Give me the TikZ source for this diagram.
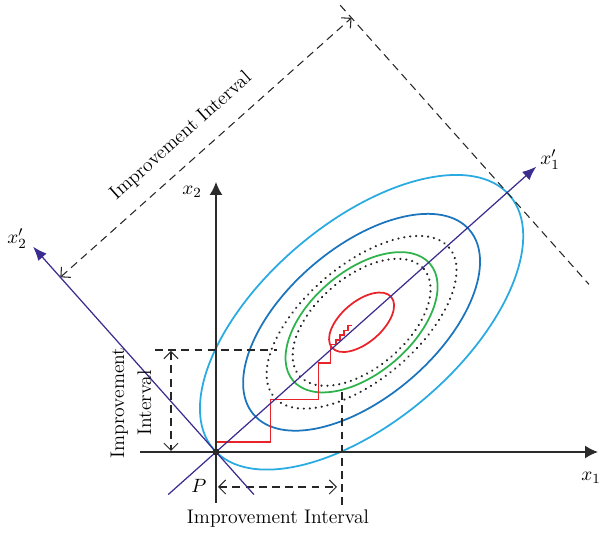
\documentclass[tikz,border=0pt]{standalone}
\usetikzlibrary{arrows.meta,calc}
\definecolor{cyanE}{HTML}{29ABE2}
\definecolor{blueE}{HTML}{1C75BC}
\definecolor{greenE}{HTML}{2EB34C}
\definecolor{redE}{HTML}{E8232A}
\definecolor{purp}{HTML}{3A2D8F}
\definecolor{axisC}{HTML}{2B2B2B}
\begin{document}
\begin{tikzpicture}[x=0.02cm,y=-0.02cm,
  font=\fontsize{11.2}{15.3}\selectfont,
  axisline/.style={draw=axisC, line width=0.8pt, -{Latex[length=0.26cm,width=0.26cm]}},
  rotaxis/.style={draw=purp, line width=0.7pt, -{Latex[length=0.28cm,width=0.22cm]}},
  dimline/.style={draw=black!85, line width=0.6pt, dash pattern=on 4.5pt off 3pt},
  dimarrow/.style={dimline, {Straight Barb[length=4pt,width=8pt]}-{Straight Barb[length=4pt,width=8pt]}},
  contour/.style={line width=1pt},
  dotcontour/.style={draw=black!85, line width=1.35pt, line cap=round, dash pattern=on 0.05pt off 3.35pt},
  lbl/.style={inner sep=1pt}]
\useasboundingbox (0,0) rectangle (600,533);

% base points
\coordinate (P) at (216,452);
\coordinate (x1a) at (140,452);
\coordinate (x1b) at (598,452);
\coordinate (x2a) at (216,503);
\coordinate (x2b) at (216,182);

% rotated frame along x1'
\begin{scope}[shift={(P)}, rotate=41.7]
  \coordinate (C) at (195,0);
  \coordinate (r1s) at (-64,0);
  \coordinate (r1e) at (429,0);
  \coordinate (r2s) at (0,57);
  \coordinate (r2e) at (0,-275);
  \coordinate (IA) at (0,-234);
  \coordinate (IB) at (390,-234);
  \coordinate (T1) at (390,-251);
  \coordinate (T2) at (390,123);
  \node[rotate=41.7] (IIdiag) at (184,-259) {Improvement Interval};
\end{scope}

% contours (tilted slightly less than the x1' axis)
\begin{scope}[rotate around={40.5:(C)}]
  \draw[contour, cyanE] (C) ellipse [x radius=195, y radius=99];
  \draw[contour, blueE] (C) ellipse [x radius=142, y radius=75];
  \draw[dotcontour] (C) ellipse [x radius=115, y radius=57];
  \draw[contour, greenE] (C) ellipse [x radius=90, y radius=51];
  \draw[dotcontour] (C) ellipse [x radius=82, y radius=45.5];
  \draw[contour, redE] (C) ellipse [x radius=39, y radius=20.5];
\end{scope}

% red staircase
\draw[redE, line width=1.1pt] (P) -- (216,442) -- (270.5,442) -- (270.5,399.5) -- (318.5,399.5)
  -- (318.5,363) -- (330.5,363) -- (330.5,344.5) -- (336,344.5) -- (336,340) -- (340,340)
  -- (340,335) -- (344,335) -- (344,330.5) -- (348,330.5) -- (348,325.5) -- (352,325.5);

% dashed guides
\coordinate (h1) at (155,350);
\coordinate (h2) at (277,350);
\coordinate (v1) at (342,392);
\coordinate (v2) at (342,507);
\coordinate (va) at (171,351);
\coordinate (vb) at (171,451);
\coordinate (ha) at (218,487);
\coordinate (hb) at (337,487);
\draw[dimline] (h1) -- (h2);
\draw[dimline] (v1) -- (v2);
\draw[dimarrow] (va) -- (vb);
\draw[dimarrow] (ha) -- (hb);
\draw[dimarrow] (IA) -- (IB);
\draw[dimline] (T1) -- (T2);

% axes
\draw[axisline] (x1a) -- (x1b);
\draw[axisline] (x2a) -- (x2b);
\draw[rotaxis] (r1s) -- (r1e);
\draw[rotaxis] (r2s) -- (r2e);
\node[circle, fill=axisC, inner sep=0pt, minimum size=0.14cm] (Pdot) at (P) {};

% labels
\node[lbl] (Plab) at (199,486) {$P$};
\node[lbl] (x1lab) at (591,478) {$x_1$};
\node[lbl] (x2lab) at (192,192) {$x_2$};
\node[lbl] (x1plab) at (550,160) {$x'_1$};
\node[lbl] (x2plab) at (17,239) {$x'_2$};
\node[rotate=90, align=center] (IIleft) at (131,403) {Improvement\\Interval};
\node (IIbottom) at (278,519) {Improvement Interval};
\end{tikzpicture}
\end{document}
